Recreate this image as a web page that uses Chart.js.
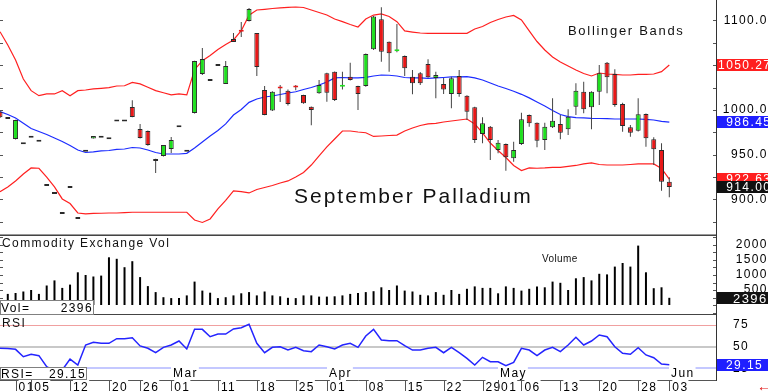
<!DOCTYPE html>
<html>
<head>
<meta charset="utf-8">
<title>September Palladium</title>
<script src="https://cdn.jsdelivr.net/npm/chart.js@4.4.1/dist/chart.umd.min.js"></script>
<style>
  html, body { margin: 0; padding: 0; background: #fff; overflow: hidden; }
  body { width: 768px; height: 391px; position: relative; font-family: "Liberation Sans", Arial, sans-serif; color: #111; }
  .pane { position: absolute; left: 0; width: 776px; }
  .txt { position: absolute; white-space: nowrap; line-height: 1; }
</style>
</head>
<body>
<div class="pane" style="top:0;height:235px"><canvas id="priceChart"></canvas></div>
<div class="pane" style="top:235px;height:80px"><canvas id="volChart"></canvas></div>
<div class="pane" style="top:315px;height:76px"><canvas id="rsiChart"></canvas></div>

<div class="txt" style="left:568px;top:24px;font-size:13px;letter-spacing:1.7px">Bollinger Bands</div>
<div class="txt" style="left:294px;top:185px;font-size:21px;letter-spacing:2px">September Palladium</div>
<div class="txt" style="left:2px;top:237px;font-size:12px;letter-spacing:1.4px">Commodity Exchange Vol</div>
<div class="txt" style="left:542px;top:254px;font-size:10px;letter-spacing:0.4px">Volume</div>
<div class="txt" style="left:2px;top:317px;font-size:12px;letter-spacing:1.4px">RSI</div>
<div class="txt" style="left:757px;top:379px;font-size:14px;font-weight:bold;color:#e01010">&larr;</div>

<script>
// trading days, one candle each
const dates = [
  '01-30','01-31',
  '02-01','02-02','02-05','02-06','02-07','02-08','02-09','02-12','02-13','02-14','02-15','02-16',
  '02-20','02-21','02-22','02-23','02-26','02-27','02-28','02-29',
  '03-01','03-04','03-05','03-06','03-07','03-08','03-11','03-12','03-13','03-14','03-15',
  '03-18','03-19','03-20','03-21','03-22','03-25','03-26','03-27','03-28',
  '04-01','04-02','04-03','04-04','04-05','04-08','04-09','04-10','04-11','04-12',
  '04-15','04-16','04-17','04-18','04-19','04-22','04-23','04-24','04-25','04-26','04-29','04-30',
  '05-01','05-02','05-03','05-06','05-07','05-08','05-09','05-10','05-13','05-14','05-15','05-16','05-17',
  '05-20','05-21','05-22','05-23','05-24','05-28','05-29','05-30','05-31',
  '06-03'
];

const open = [
  998, 990, 967.6, 961.7, 969, 964.6, 915.1, 906.2, 883.8, 912.8,
  878.2, 953.4, 968, 969, 967.3, 987, 987, 1003.4, 978.8, 976.5,
  945.3, 948.6, 956.4, 980.7, 953.4, 996.6, 1040.2, 1032.4, 1049.2, 1029,
  1079.3, 1088.5, 1099.4, 1086, 1022.3, 999.5, 1025, 1021.6, 1025.5, 1016.8,
  1003.7, 1018.7, 1041, 1042.8, 1026, 1037.2, 1026.8, 1026.8, 1067.8, 1101.3,
  1076.3, 1065.5, 1060.3, 1037.2, 1041, 1051.4, 1035.8, 1029, 1017.9, 1038,
  1016, 1003, 973.2, 981.3, 955.3, 962, 946, 962, 994.4, 985.8,
  966.5, 980.7, 984.4, 978.4, 1003.7, 1020.5, 1003, 1020.5, 1052.9, 1040.2,
  1006.7, 980.7, 976.9, 995.5, 967.3, 955.3, 919.9
];
const high = [
  999, 990, 989, 961.7, 969, 964.6, 915.1, 906.2, 883.8, 912.8,
  878.2, 953.4, 971, 969, 967.3, 987, 987, 1011, 984.4, 977,
  945.5, 961, 969.8, 980.7, 953.4, 1055, 1069.3, 1032.4, 1049.2, 1054.7,
  1086, 1098.3, 1114, 1086, 1026.8, 1021, 1028, 1023, 1028, 1017,
  1004, 1033.5, 1041.5, 1043, 1042.8, 1052.9, 1027, 1063, 1105, 1114.7,
  1076.5, 1096, 1061, 1044.7, 1042.5, 1056.6, 1042.8, 1035.8, 1037.2, 1044.7,
  1016.5, 1003.5, 991.8, 982, 966.5, 962.5, 964.6, 997, 995, 986,
  985.8, 1013, 994.4, 1000.8, 1029.8, 1031.6, 1021, 1050.3, 1053.5, 1045.5,
  1008.2, 983.2, 1013, 996, 969.5, 962.8, 924.8
];
const low = [
  991, 990, 967, 961.7, 969, 964.6, 915.1, 906.2, 883.8, 912.8,
  878.2, 953.4, 968, 969, 967.3, 987, 987, 992, 968, 960,
  929.6, 948, 952, 980.7, 953.4, 996, 1039, 1032.4, 1049.2, 1029,
  1076, 1081.6, 1099, 1038, 994, 999, 1009, 1005, 1022, 1007,
  983, 1018, 1009.3, 1010, 1023, 1033, 1000, 1026, 1067, 1054,
  1042.8, 1064.5, 1038, 1017.5, 1028, 1036, 1013, 1017.9, 1001.9, 1014.9,
  988.8, 963, 962.8, 944.1, 951.6, 932.2, 942.2, 961, 981.3, 958.3,
  955.3, 980, 967.3, 972, 994.4, 996.3, 978.4, 1005.6, 1018.7, 1003.7,
  975.8, 970.2, 976, 959, 938.5, 909.8, 902.5
];
const close = [
  992, 990, 988.8, 961.7, 969, 964.6, 915.1, 906.2, 883.8, 912.8,
  878.2, 953.4, 971, 969, 967.3, 987, 987, 992.2, 968.7, 960.9,
  943, 960.9, 966.5, 980.7, 953.4, 1054.7, 1057, 1032.4, 1049.2, 1049.2,
  1076, 1087.5, 1112.8, 1048, 994.4, 1020.5, 1024, 1006.7, 1025, 1007.5,
  1000, 1028, 1019.3, 1011.2, 1027, 1033.5, 1017.9, 1062.6, 1104.5, 1065.1,
  1063.4, 1066, 1046.6, 1029.8, 1029.8, 1036.5, 1039, 1023, 1035.4, 1017.9,
  998.1, 966.5, 985.1, 966.5, 963.5, 947.2, 955.3, 989.6, 985.1, 965.7,
  981.3, 988, 974.6, 992.5, 1021.6, 1000.8, 1020.5, 1041, 1036.5, 1005.6,
  982.1, 974.6, 995.2, 968.4, 956.1, 919.9, 914
];

// Bollinger bands
const bbUpper = [
  1087.5, 1072.6, 1055.9, 1034.6, 1021.6, 1016, 1017.9, 1017.9, 1021.6, 1016,
  1021.6, 1022.3, 1023.5, 1024.2, 1024.9, 1026.8, 1027.1, 1030.9, 1029.1, 1025.4,
  1021.6, 1019.3, 1016.8, 1017.9, 1016.8, 1045, 1055.1, 1060.9, 1067.6, 1073.2,
  1078.2, 1088.6, 1106, 1111.7, 1112.5, 1113.4, 1114, 1114.7, 1115.1, 1114.5,
  1111.7, 1108.9, 1106.1, 1101.7, 1098.7, 1095.5, 1092.7, 1101.7, 1106.1, 1107.3,
  1104.5, 1098.7, 1088.3, 1087.1, 1086, 1085.7, 1085.7, 1085.7, 1085.7, 1085.7,
  1085.7, 1090.5, 1093.3, 1097.8, 1101.1, 1103.9, 1105.6, 1100.6, 1088.3, 1076.5,
  1067, 1059.2, 1053.6, 1049.2, 1044.7, 1040.8, 1038, 1041.3, 1040.2, 1039.7,
  1039.1, 1039.1, 1039.7, 1039.7, 1040.2, 1042.8, 1050.27
];
const bbMiddle = [
  998.1, 995, 991.1, 985.1, 979.3, 976, 972.6, 968.7, 964.8, 960.3,
  955.3, 952.5, 953.1, 954.2, 954.7, 955.9, 956.4, 958.1, 957.5, 955.3,
  952.5, 950.8, 950.8, 950.8, 951.6, 957.5, 964.2, 970.9, 977.1, 984.4,
  994.4, 1000.6, 1008.5, 1012.3, 1014.5, 1015.6, 1017.3, 1019, 1020.4, 1022.9,
  1025.1, 1027.9, 1031.3, 1035.8, 1036.3, 1035.8, 1035.8, 1036.5, 1038, 1039.1,
  1038.8, 1038, 1036.3, 1035.8, 1035.8, 1035.4, 1035.8, 1036.3, 1036.9, 1036.9,
  1037.2, 1035.8, 1033.5, 1030.2, 1026.8, 1024, 1021, 1017.5, 1013.5, 1009,
  1004.5, 999.5, 995, 992.5, 991.5, 991.1, 990.7, 990.5, 990.3, 989.9,
  989.9, 989.9, 989.9, 989.4, 988.8, 987.2, 986.45
];
const bbLower = [
  908.7, 914, 920.7, 928.5, 935.2, 934.9, 925.1, 914, 900.6, 895.5,
  884.9, 883.8, 884.4, 884.6, 884.9, 884.9, 885.4, 885.7, 885.7, 885.7,
  885.7, 885.7, 885.7, 885.7, 885.7, 877.1, 874.3, 878.2, 889.4, 898.9,
  909.5, 908.7, 907.3, 911.2, 913.4, 915.6, 918.4, 920.7, 925.1, 930.2,
  938.5, 948.6, 958.7, 967.6, 976.5, 976.5, 975.4, 974.6, 970.4, 970.9,
  971.5, 972, 976.5, 979.9, 982.7, 984.4, 985.1, 986.6, 987.7, 988.8,
  989.9, 984.4, 974.3, 963.1, 954.7, 946.9, 938, 932.4, 935.2, 934.9,
  935.2, 935.8, 935.8, 936.9, 938, 939.7, 940.8, 939.1, 938.5, 938.5,
  938.5, 939.1, 939.7, 939.7, 939.7, 934.6, 922.63
];

const volume = [
  null, 3700, 4000, 4500, 5000, 3700, 6500, 8200, 5700, 6800,
  10900, 10000, 9500, 9800, 15900, 15400, 12600, 14600, 9300, 6300,
  4300, 2600, 2300, 2300, 3200, 7800, 4800, 4100, 2300, 2600,
  3200, 3900, 4300, 3200, 4500, 3200, 2900, 2400, 2300, 3200,
  3200, 2800, 2800, 2900, 3200, 3700, 4000, 4300, 4600, 5900,
  5000, 6500, 4800, 4500, 3400, 3200, 4300, 3400, 5000, 3700,
  5400, 6200, 5700, 5700, 3900, 6200, 5700, 4800, 5400, 6200,
  5900, 7800, 7400, 5000, 8900, 9300, 8200, 10400, 10200, 12800,
  14000, 12800, 19800, 10900, 5600, 5900, 2396
];

const rsi = [
  48.1, 47.9, 46.9, 38.4, 41.2, 39.6, 26.8, 22, 23, 35.7,
  28.8, 51.9, 55, 53.9, 53.9, 59.2, 59.2, 60.3, 50.8, 48.1,
  43, 49.2, 51.9, 56.5, 47.3, 70, 70, 61.5, 64.6, 64.6,
  70.4, 71.9, 75.8, 53.9, 43, 49.2, 49.9, 46.1, 49.2, 45.3,
  44.2, 51.9, 49.9, 47.3, 51.9, 53.9, 49.2, 62.3, 70, 57.7,
  56.9, 56.9, 51.1, 46.1, 46.1, 48.1, 49.2, 43, 49.2, 43,
  36.5, 28.8, 37.7, 32.6, 32.6, 28, 31.9, 48.1, 46.1, 39.6,
  46.1, 49.2, 44.2, 51.9, 60.8, 51.9, 56.5, 63.5, 61.5, 49.9,
  42.3, 41.2, 48.8, 40.4, 37.2, 30, 29.15
];

// axis ticks
const priceTicks = [900, 950, 1000, 1050, 1100];
const volumeTicks = [0, 5000, 10000, 15000, 20000];
const rsiTicks = [25, 50, 75];
const dayTicks = ['02-01','02-05','02-12','02-20','02-26','03-01','03-11','03-18','03-25',
  '04-01','04-08','04-15','04-22','04-29','05-01','05-06','05-13','05-20','05-28','06-03'];
const monthTicks = ['03-01','04-01','05-01','06-03'];
const monthNames = ['Mar','Apr','May','Jun'];

const FONT = '"Liberation Sans", Arial, sans-serif';
const LETTER = '1.4px';
const AXIS_W = 60;
const X_MAX = 92;
const UP = '#1fe01f', DOWN = '#e81818', FLAT = '#111';
const BAND_RED = '#ff2020', BAND_BLUE = '#1c2cff';

const idx = dates.map((d, i) => i);
const flat = idx.map(i => high[i] === low[i]);
const bodyColor = idx.map(i => flat[i] ? FLAT : (close[i] >= open[i] ? UP : DOWN));
const bodyEdge = idx.map(i => (!flat[i] && Math.abs(close[i] - open[i]) < 1.5) ? bodyColor[i] : '#2a2a2a');

// canvas text letter spacing (state is lost on resize, so set it again each pass)
const spacing = {
  id: 'spacing',
  beforeUpdate(chart) { chart.ctx.letterSpacing = LETTER; },
  beforeDraw(chart) { chart.ctx.letterSpacing = LETTER; }
};

// panel separators and the small marks along both edges
const frame = {
  id: 'frame',
  afterDraw(chart, args, opts) {
    const { ctx, chartArea: a } = chart;
    const y = chart.scales.y;
    ctx.save();
    ctx.lineWidth = 1;
    (opts.edges || []).forEach(e => {
      ctx.strokeStyle = e.color;
      const py = e.side === 'top' ? a.top + 0.5 : a.bottom - 0.5;
      ctx.beginPath(); ctx.moveTo(0, py); ctx.lineTo(a.right, py); ctx.stroke();
    });
    if (opts.step) {
      ctx.strokeStyle = '#555';
      for (let v = Math.ceil(y.min / opts.step) * opts.step; v <= y.max; v += opts.step) {
        const py = Math.round(y.getPixelForValue(v)) + 0.5;
        ctx.beginPath();
        ctx.moveTo(0, py); ctx.lineTo(3, py);
        ctx.moveTo(a.right - 3, py); ctx.lineTo(a.right, py);
        ctx.stroke();
      }
    }
    ctx.restore();
  }
};

// coloured last-value tags on the right axis
const tags = {
  id: 'tags',
  afterDraw(chart, args, opts) {
    const { ctx, chartArea: a } = chart;
    const y = chart.scales.y;
    ctx.save();
    ctx.letterSpacing = LETTER;
    ctx.font = (opts.size || 12) + 'px ' + FONT;
    ctx.textBaseline = 'middle';
    ctx.textAlign = opts.align;
    let tx = a.right + opts.pad;
    if (opts.align === 'right') tx += ctx.measureText(opts.widest).width;
    opts.items.forEach(t => {
      const py = Math.round(y.getPixelForValue(t.value));
      ctx.fillStyle = t.bg;
      ctx.fillRect(a.right + 1, py - 6, chart.width - a.right, 12);
      ctx.fillStyle = '#fff';
      ctx.fillText(t.text, tx, py + 1);
    });
    ctx.restore();
  }
};

// "Vol=" / "RSI=" readout boxes, bottom left of a panel
const readout = {
  id: 'readout',
  afterDraw(chart, args, opts) {
    const { ctx, chartArea: a } = chart;
    const top = a.bottom - opts.h;
    ctx.save();
    ctx.fillStyle = '#fff';
    ctx.fillRect(0, top, opts.w, opts.h);
    ctx.strokeStyle = '#808080';
    ctx.lineWidth = 1;
    ctx.strokeRect(0.5, top + 0.5, opts.w - 1, opts.h - 1);
    ctx.letterSpacing = LETTER;
    ctx.font = '12px ' + FONT;
    ctx.fillStyle = '#000';
    ctx.textBaseline = 'middle';
    ctx.textAlign = 'left';
    ctx.fillText(opts.label, 1, top + opts.h / 2 + 1);
    ctx.textAlign = 'right';
    ctx.fillText(opts.text, opts.w - 1, top + opts.h / 2 + 1);
    ctx.restore();
  }
};

// date separators and month names under the RSI pane
const calendar = {
  id: 'calendar',
  afterDraw(chart) {
    const { ctx, chartArea: a } = chart;
    const x = chart.scales.x;
    ctx.save();
    ctx.strokeStyle = '#555';
    ctx.lineWidth = 1;
    x.ticks.forEach(t => {
      const px = Math.round(x.getPixelForValue(t.value)) + 0.5;
      ctx.beginPath(); ctx.moveTo(px, a.bottom); ctx.lineTo(px, chart.height); ctx.stroke();
    });
    ctx.letterSpacing = LETTER;
    ctx.font = '12px ' + FONT;
    ctx.textBaseline = 'middle';
    ctx.textAlign = 'left';
    monthTicks.forEach((d, k) => {
      const px = Math.round(x.getPixelForValue(dates.indexOf(d))) + 2;
      const w = ctx.measureText(monthNames[k]).width;
      ctx.fillStyle = '#fff';
      ctx.fillRect(px - 2, a.bottom - 13, w + 3, 12);
      ctx.fillStyle = '#000';
      ctx.fillText(monthNames[k], px, a.bottom - 6);
    });
    ctx.restore();
  }
};

function hiddenX() {
  return {
    type: 'linear', min: 0, max: X_MAX, offset: false, display: false,
    grid: { display: false }
  };
}

function rightAxis(min, max, ticks, pad, crossAlign, format, grid) {
  return {
    position: 'right', min, max,
    afterBuildTicks: s => { s.ticks = ticks.map(v => ({ value: v })); },
    afterFit: s => { s.width = AXIS_W; s.paddingTop = 0; s.paddingBottom = 0; },
    grid: grid || { display: false, drawTicks: false },
    border: { display: true, color: '#333' },
    ticks: {
      autoSkip: false, padding: pad, crossAlign,
      color: '#000', font: { family: FONT, size: 12 },
      callback: format
    }
  };
}

const common = {
  responsive: true,
  maintainAspectRatio: false,
  animation: false,
  events: [],
  layout: { padding: 0 }
};

// 1. Price pane
new Chart(document.getElementById('priceChart'), {
  type: 'bar',
  data: {
    datasets: [
      { type: 'line', data: idx.map(i => ({ x: i, y: bbUpper[i] })), borderColor: BAND_RED, borderWidth: 1.2, pointRadius: 0, order: 3 },
      { type: 'line', data: idx.map(i => ({ x: i, y: bbMiddle[i] })), borderColor: BAND_BLUE, borderWidth: 1.2, pointRadius: 0, order: 3 },
      { type: 'line', data: idx.map(i => ({ x: i, y: bbLower[i] })), borderColor: BAND_RED, borderWidth: 1.2, pointRadius: 0, order: 3 },
      {
        data: idx.map(i => ({ x: i, y: [low[i], high[i]] })),
        backgroundColor: '#444', barThickness: 1, grouped: false, inflateAmount: 0, order: 2
      },
      {
        data: idx.map(i => ({ x: i, y: [open[i], close[i]] })),
        backgroundColor: bodyColor, borderColor: bodyEdge, borderWidth: 1, borderSkipped: false,
        barThickness: 5, minBarLength: 2, grouped: false, inflateAmount: 0, order: 1
      }
    ]
  },
  options: {
    ...common,
    plugins: {
      legend: { display: false },
      tooltip: { enabled: false },
      frame: { edges: [{ side: 'bottom', color: '#999' }], step: 25 },
      tags: {
        align: 'right', pad: 3, widest: '1100.00',
        items: [
          { value: bbUpper[bbUpper.length - 1], bg: '#ff1f1f', text: bbUpper[bbUpper.length - 1].toFixed(2) },
          { value: bbMiddle[bbMiddle.length - 1], bg: '#1f1fff', text: bbMiddle[bbMiddle.length - 1].toFixed(2) },
          { value: bbLower[bbLower.length - 1], bg: '#ff1f1f', text: bbLower[bbLower.length - 1].toFixed(2) },
          { value: close[close.length - 1], bg: '#111', text: close[close.length - 1].toFixed(2) }
        ]
      }
    },
    scales: {
      x: hiddenX(),
      y: rightAxis(860.3, 1122.9, priceTicks, -6, 'far', v => v.toFixed(2))
    }
  },
  plugins: [spacing, frame, tags]
});

// 2. Volume pane
new Chart(document.getElementById('volChart'), {
  type: 'bar',
  data: {
    datasets: [{
      data: idx.map(i => ({ x: i, y: volume[i] })),
      backgroundColor: '#000', barThickness: 2, inflateAmount: 0
    }]
  },
  options: {
    ...common,
    plugins: {
      legend: { display: false },
      tooltip: { enabled: false },
      frame: { edges: [{ side: 'top', color: '#444' }, { side: 'bottom', color: '#444' }], step: 2500 },
      tags: {
        align: 'left', pad: 17, size: 13,
        items: [{ value: volume[volume.length - 1], bg: '#111', text: String(volume[volume.length - 1]) }]
      },
      readout: { label: 'Vol=', text: String(volume[volume.length - 1]), w: 94, h: 15 }
    },
    scales: {
      x: hiddenX(),
      y: rightAxis(-3333, 23333, volumeTicks, 8, 'far', v => String(v))
    }
  },
  plugins: [spacing, frame, tags, readout]
});

// 3. RSI pane with the date axis
const rsiGridColor = { 75: '#f0a0a0', 50: '#c8c8c8', 25: '#c4c8ff' };
new Chart(document.getElementById('rsiChart'), {
  type: 'line',
  data: {
    datasets: [{
      data: idx.map(i => ({ x: i, y: rsi[i] })),
      borderColor: '#2424ff', borderWidth: 1.5, pointRadius: 0, tension: 0
    }]
  },
  options: {
    ...common,
    plugins: {
      legend: { display: false },
      tooltip: { enabled: false },
      tags: {
        align: 'left', pad: 10,
        items: [{ value: rsi[rsi.length - 1], bg: '#1f1fff', text: rsi[rsi.length - 1].toFixed(2) }]
      },
      readout: { label: 'RSI=', text: rsi[rsi.length - 1].toFixed(2), w: 87, h: 13 }
    },
    scales: {
      x: {
        type: 'linear', min: 0, max: X_MAX, offset: false,
        afterBuildTicks: s => { s.ticks = dayTicks.map(d => ({ value: dates.indexOf(d) })); },
        afterFit: s => { s.height = 11; s.paddingLeft = 0; s.paddingRight = 0; },
        grid: { display: false, drawTicks: false },
        border: { display: true, color: '#555' },
        ticks: {
          autoSkip: false, maxRotation: 0, minRotation: 0, align: 'start', labelOffset: 3, padding: 0,
          color: '#000', font: { family: FONT, size: 12 },
          showLabelBackdrop: true, backdropColor: '#fff', backdropPadding: 0,
          callback: (v, i) => dayTicks[i].slice(3)
        }
      },
      y: rightAxis(11.5, 86.55, rsiTicks, 17, 'near', v => String(v), {
        display: true, drawTicks: false, drawOnChartArea: true,
        color: c => rsiGridColor[c.tick.value] || '#ccc',
        lineWidth: c => c.tick.value === 75 ? 1 : 2
      })
    }
  },
  plugins: [spacing, tags, readout, calendar]
});
</script>
</body>
</html>
